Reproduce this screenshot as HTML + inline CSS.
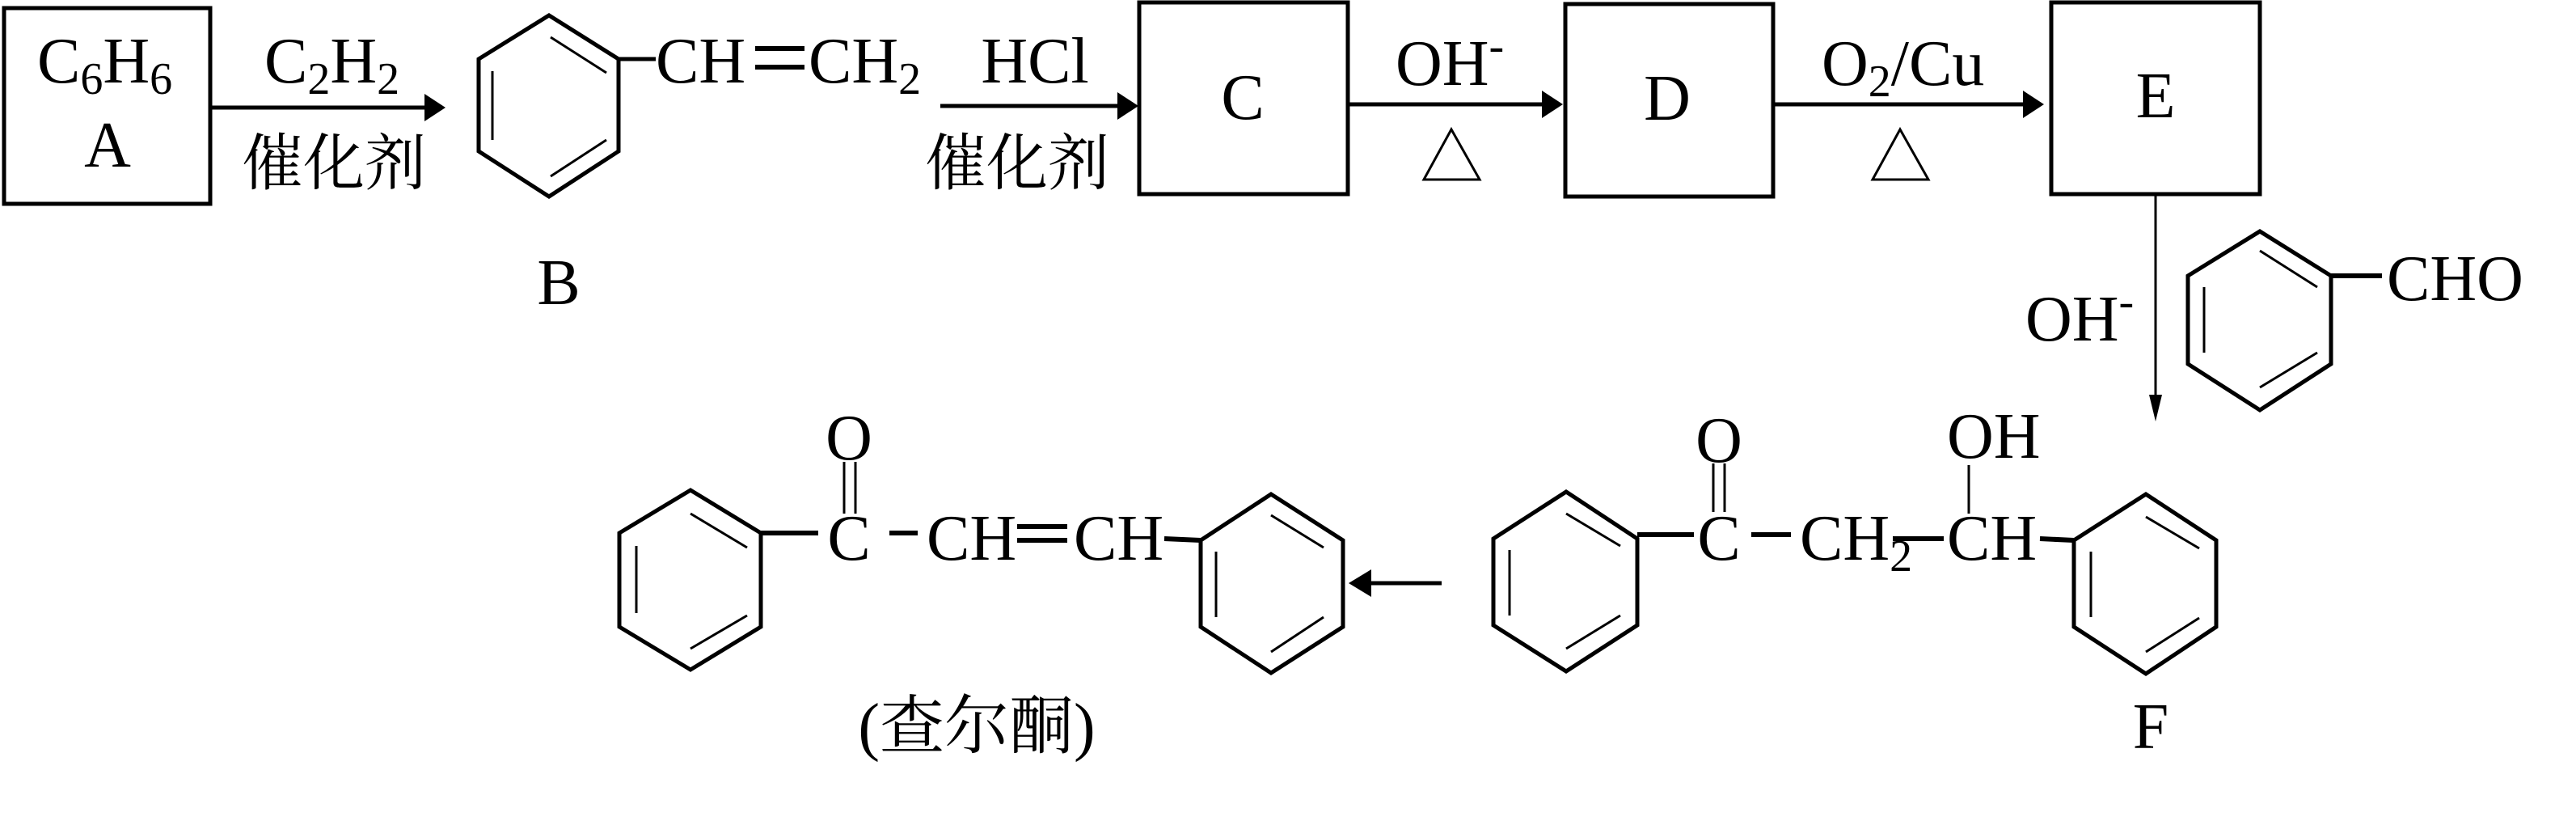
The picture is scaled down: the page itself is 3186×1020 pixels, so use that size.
<!DOCTYPE html>
<html><head><meta charset="utf-8"><style>
html,body{margin:0;padding:0;background:#fff;}
svg{display:block;}
text{font-family:"Liberation Serif","Noto Serif CJK SC",serif;fill:#000;}
.cj{font-family:"Liberation Serif","Noto Serif CJK SC","Noto Sans CJK SC",serif;}
</style></head><body>
<svg width="3186" height="1020" viewBox="0 0 3186 1020" xmlns="http://www.w3.org/2000/svg">
<g fill="none" stroke="#000" stroke-width="5">
<!-- boxes -->
<rect x="5" y="10" width="255" height="242"/>
<rect x="1409" y="3" width="258" height="237"/>
<rect x="1936" y="5" width="257" height="238"/>
<rect x="2537" y="3" width="258" height="237"/>
<!-- arrows -->
<line x1="260" y1="133" x2="530" y2="133"/>
<line x1="1163" y1="131" x2="1390" y2="131"/>
<line x1="1667" y1="129" x2="1915" y2="129"/>
<line x1="2193" y1="129" x2="2510" y2="129"/>
<line x1="1690" y1="721" x2="1783" y2="721"/>
<line x1="2666" y1="240" x2="2666" y2="495" stroke-width="3"/>
<!-- triangles -->
<polygon points="1795,160 1761,222 1830,222" stroke-width="3"/>
<polygon points="2350,160 2316,222 2385,222" stroke-width="3"/>
<!-- benzene B -->
<polygon points="679,19 765,73 765,187 679,243 592,187 592,73"/>
<line x1="681" y1="46" x2="750" y2="90" stroke-width="3"/>
<line x1="609" y1="88" x2="609" y2="173" stroke-width="3"/>
<line x1="750" y1="173" x2="681" y2="218" stroke-width="3"/>
<line x1="765" y1="73" x2="811" y2="73"/>
<line x1="934" y1="60" x2="995" y2="60" stroke-width="6"/>
<line x1="934" y1="83" x2="995" y2="83" stroke-width="6"/>
<!-- benzaldehyde -->
<polygon points="2795,286 2883,341 2883,450 2795,507 2706,450 2706,341"/>
<line x1="2795" y1="310" x2="2866" y2="355" stroke-width="3"/>
<line x1="2726" y1="355" x2="2726" y2="436" stroke-width="3"/>
<line x1="2866" y1="436" x2="2795" y2="479" stroke-width="3"/>
<line x1="2883" y1="341" x2="2946" y2="341" stroke-width="6"/>
<!-- chalcone -->
<polygon points="854,606 941,659 941,775 854,828 766,775 766,659"/>
<line x1="854" y1="635" x2="924" y2="677" stroke-width="3"/>
<line x1="787" y1="675" x2="787" y2="758" stroke-width="3"/>
<line x1="924" y1="761" x2="854" y2="802" stroke-width="3"/>
<line x1="941" y1="659" x2="1012" y2="659" stroke-width="6"/>
<line x1="1044" y1="571" x2="1044" y2="635" stroke-width="3"/>
<line x1="1058" y1="571" x2="1058" y2="635" stroke-width="3"/>
<line x1="1100" y1="659" x2="1135" y2="659" stroke-width="6"/>
<line x1="1258" y1="651" x2="1320" y2="651" stroke-width="6"/>
<line x1="1258" y1="668" x2="1320" y2="668" stroke-width="6"/>
<line x1="1440" y1="666" x2="1485" y2="668" stroke-width="6"/>
<polygon points="1572,611 1661,668 1661,775 1572,832 1485,775 1485,668"/>
<line x1="1572" y1="637" x2="1637" y2="677" stroke-width="3"/>
<line x1="1504" y1="682" x2="1504" y2="763" stroke-width="3"/>
<line x1="1637" y1="763" x2="1572" y2="806" stroke-width="3"/>
<!-- F -->
<polygon points="1937,608 2025,666 2025,773 1937,830 1847,773 1847,666"/>
<line x1="1937" y1="635" x2="2004" y2="675" stroke-width="3"/>
<line x1="1867" y1="680" x2="1867" y2="761" stroke-width="3"/>
<line x1="2004" y1="761" x2="1937" y2="802" stroke-width="3"/>
<line x1="2025" y1="661" x2="2095" y2="661" stroke-width="6"/>
<line x1="2119" y1="573" x2="2119" y2="633" stroke-width="3"/>
<line x1="2133" y1="573" x2="2133" y2="633" stroke-width="3"/>
<line x1="2166" y1="661" x2="2215" y2="661" stroke-width="6"/>
<line x1="2341" y1="666" x2="2404" y2="666" stroke-width="6"/>
<line x1="2435" y1="575" x2="2435" y2="635" stroke-width="3"/>
<line x1="2523" y1="666" x2="2565" y2="668" stroke-width="6"/>
<polygon points="2654,611 2741,668 2741,775 2654,833 2565,775 2565,668"/>
<line x1="2654" y1="639" x2="2720" y2="678" stroke-width="3"/>
<line x1="2586" y1="682" x2="2586" y2="763" stroke-width="3"/>
<line x1="2720" y1="764" x2="2654" y2="806" stroke-width="3"/>
</g>
<g fill="#000">
<polygon points="551,133 525,116 525,150"/>
<polygon points="1408,131 1382,114 1382,148"/>
<polygon points="1933,129 1907,112 1907,146"/>
<polygon points="2528,129 2502,112 2502,146"/>
<polygon points="1668,721 1696,704 1696,738"/>
<polygon points="2666,521 2658,488 2674,488"/>
</g>
<g font-size="80">
<text x="46" y="102">C<tspan font-size="56" dy="14">6</tspan><tspan dy="-14">H</tspan><tspan font-size="56" dy="14">6</tspan></text>
<text x="133" y="206" text-anchor="middle">A</text>
<text x="327" y="102">C<tspan font-size="56" dy="14">2</tspan><tspan dy="-14">H</tspan><tspan font-size="56" dy="14">2</tspan></text>
<text class="cj" x="413" y="228" text-anchor="middle" font-size="76">催化剂</text>
<text x="811" y="102">CH</text>
<text x="1000" y="102">CH<tspan font-size="56" dy="14">2</tspan></text>
<text x="691" y="376" text-anchor="middle">B</text>
<text x="1280" y="102" text-anchor="middle">HCl</text>
<text class="cj" x="1258" y="228" text-anchor="middle" font-size="76">催化剂</text>
<text x="1537" y="147" text-anchor="middle">C</text>
<text x="1726" y="105">OH<tspan font-size="56" dy="-30">-</tspan></text>
<text x="2062" y="148" text-anchor="middle">D</text>
<text x="2253" y="105">O<tspan font-size="56" dy="14">2</tspan><tspan dy="-14">/Cu</tspan></text>
<text x="2666" y="145" text-anchor="middle">E</text>
<text x="2505" y="421">OH<tspan font-size="56" dy="-30">-</tspan></text>
<text x="2952" y="371">CHO</text>
<text x="1050" y="568" text-anchor="middle">O</text>
<text x="1050" y="692" text-anchor="middle">C</text>
<text x="1146" y="692">CH</text>
<text x="1328" y="692">CH</text>
<text x="1208" y="925" text-anchor="middle" class="cj">(查尔酮)</text>
<text x="2126" y="571" text-anchor="middle">O</text>
<text x="2126" y="692" text-anchor="middle">C</text>
<text x="2226" y="692">CH<tspan font-size="56" dy="14">2</tspan></text>
<text x="2408" y="692">CH</text>
<text x="2408" y="566">OH</text>
<text x="2660" y="925" text-anchor="middle">F</text>
</g>
</svg>
</body></html>
